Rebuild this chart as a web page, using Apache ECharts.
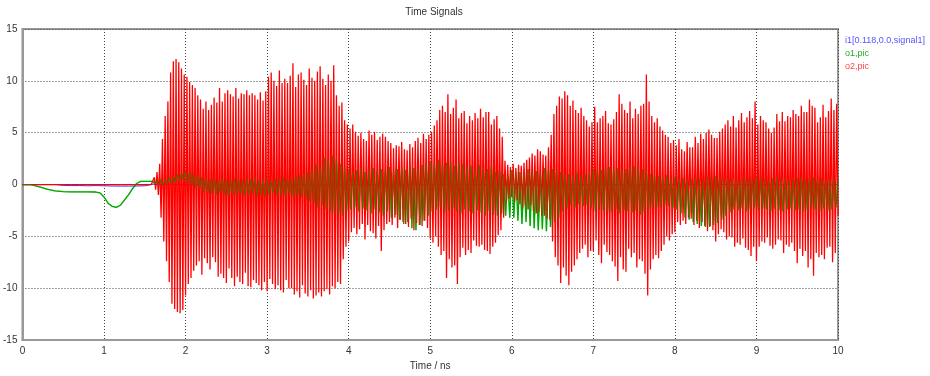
<!DOCTYPE html>
<html>
<head>
<meta charset="utf-8">
<script src="https://cdn.jsdelivr.net/npm/echarts@6/dist/echarts.min.js"></script>
<style>
html,body{margin:0;padding:0;background:#fff;}
#chart{width:930px;height:376px;}
</style>
</head>
<body>
<div id="chart"></div>
<script>
// time signals (ns / value)
var seriesNames = ['i1[0.118,0.0,signal1]', 'o1,pic', 'o2,pic'];
var xTicks = [0, 1, 2, 3, 4, 5, 6, 7, 8, 9, 10];

// i1: near zero, one sample every 0.1 ns from 0
var i1Start = 0, i1Step = 0.1;
var i1Values = [
	0, 0, 0, 0, 0, -0.08, -0.1, -0.1, -0.12, -0.1,
	-0.12, -0.14, -0.15, -0.15, -0.14, -0.12, 0.04, -0.04, 0.05, -0.03,
	0.03, -0.05, 0.04, -0.03, 0.05, -0.04, 0.03, -0.05, 0.04, -0.03,
	0.05, -0.04, 0.03, -0.05, 0.04, -0.03, 0.05, -0.04, 0.03, -0.05,
	0.04, -0.03, 0.05, -0.04, 0.03, -0.05, 0.04, -0.03, 0.05, -0.04,
	0.03, -0.05, 0.04, -0.03, 0.05, -0.04, 0.03, -0.05, 0.04, -0.03,
	0.05, -0.04, 0.03, -0.05, 0.04, -0.03, 0.05, -0.04, 0.03, -0.05,
	0.04, -0.03, 0.05, -0.04, 0.03, -0.05, 0.04, -0.03, 0.05, -0.04,
	0.03, -0.05, 0.04, -0.03, 0.05, -0.04, 0.03, -0.05, 0.04, -0.03,
	0.05, -0.04, 0.03, -0.05, 0.04, -0.03, 0.05, -0.04, 0.03, -0.05,
	0
];

// o1: slow part before the burst
var o1EarlyTimes = [0, 0.1, 0.2, 0.3, 0.4, 0.5, 0.6, 0.7, 0.8, 0.9, 0.95, 1.0, 1.05, 1.1, 1.15, 1.2, 1.25, 1.3, 1.35, 1.4, 1.45, 1.5, 1.55];
var o1EarlyValues = [0, 0, -0.2, -0.45, -0.6, -0.68, -0.7, -0.7, -0.7, -0.72, -0.8, -1.2, -1.8, -2.1, -2.2, -2.0, -1.5, -1.0, -0.4, 0.1, 0.3, 0.3, 0.3];

// o1: oscillating part, one sample every 0.025 ns from 1.6
var o1Start = 1.6, o1Step = 0.025;
var o1Values = [
	0.3, 0.1, 0.4, 0.0,   0.5, -0.1, 0.5, 0.1,   0.7, 0.1, 0.8, 0.2,   1.0, 0.3, 1.1, 0.4,
	1.3, 0.2, 1.2, 0.0,   1.0, -0.3, 0.9, -0.4,  0.7, -0.7, 0.6, -0.8,  0.5, -0.9, 0.6, -1.0,
	0.4, -0.8, 0.6, -1.0, 0.5, -1.1, 0.4, -0.9,  0.6, -1.0, 0.5, -0.9,  0.4, -1.1, 0.6, -1.0,
	0.5, -0.9, 0.7, -1.1, 0.4, -1.0, 0.5, -1.2,  0.6, -1.0, 0.3, -0.8,  0.5, -1.1, 0.6, -1.0,
	0.7, -1.2, 0.5, -0.9, 0.6, -1.3, 0.8, -1.1,  0.9, -1.2, 1.0, -1.4,  1.2, -1.6, 1.4, -1.8,
	2.0, -2.2, 1.7, -2.0, 2.6, -2.4, 2.3, -2.6,  2.8, -2.8, 2.5, -2.9,  2.0, -3.0, 1.6, -2.6,
	1.5, -2.4, 1.2, -2.2, 1.4, -2.6, 1.6, -2.3,  1.2, -2.5, 1.5, -2.8,  1.6, -2.4, 1.3, -2.7,
	1.5, -3.0, 1.4, -2.6, 1.7, -3.2, 1.3, -2.9,  1.5, -3.4, 1.6, -3.8,  1.4, -3.6, 1.8, -4.2,
	1.6, -4.4, 1.5, -3.9, 1.9, -3.5, 2.1, -3.0,  2.2, -2.6, 2.0, -2.4,  2.4, -2.2, 1.9, -2.7,
	2.1, -2.5, 2.3, -2.3, 1.8, -2.6, 2.2, -2.8,  2.0, -2.4, 1.7, -2.6,  1.8, -2.8, 1.5, -2.5,
	1.9, -2.7, 1.6, -3.0, 1.5, -2.6, 1.8, -2.9,  1.2, -3.0, 1.4, -2.8,  1.0, -3.0, 0.8, -3.2,
	1.4, -3.2, 1.2, -3.5, 1.2, -3.8, 1.0, -3.6,  1.5, -4.0, 1.3, -4.2,  1.3, -4.4, 1.1, -4.3,
	1.6, -4.5, 1.4, -4.1, 1.5, -3.6, 1.3, -3.2,  1.2, -2.6, 1.0, -2.3,  1.0, -2.0, 0.9, -2.2,
	1.1, -1.9, 0.8, -2.1, 1.0, -2.0, 1.2, -2.3,  1.5, -2.6, 1.3, -2.4,  1.4, -2.5, 1.6, -2.7,
	1.7, -2.6, 1.5, -2.4, 1.6, -2.8, 1.4, -2.5,  1.5, -2.6, 1.7, -2.7,  1.8, -2.5, 1.6, -2.9,
	1.5, -2.7, 1.3, -2.4, 1.0, -2.3, 0.9, -2.2,  0.8, -2.2, 0.7, -2.0,  0.9, -2.1, 0.6, -2.3,
	0.7, -2.4, 0.6, -2.8, 0.6, -3.2, 0.5, -3.4,  0.5, -3.6, 0.7, -3.8,  0.6, -4.0, 0.5, -4.1,
	0.7, -4.1, 0.6, -3.9, 0.8, -3.7, 0.7, -3.4,  0.6, -3.0, 0.5, -2.7,  0.6, -2.4, 0.4, -2.5,
	0.5, -2.3, 0.7, -2.6, 0.6, -2.4, 0.5, -2.2,  0.7, -2.5, 0.6, -2.3,  0.5, -2.4, 0.4, -2.6,
	0.6, -2.3, 0.7, -2.5, 0.5, -2.6, 0.6, -2.4,  0.4, -2.3, 0.5, -2.5,  0.6, -2.4, 0.7, -2.6,
	0.5, -2.5, 0.6, -2.3, 0.7, -2.4, 0.5, -2.6,  0.6, -2.3, 0.4, -2.5,  0.5, -2.4, 0.6, -2.2,
	0.4
];

// o2: flat zero until the burst, then six samples per 0.1 ns from 1.6
var o2EarlyTimes = [0, 1.58];
var o2EarlyValues = [0, 0];
var o2Start = 1.6, o2Step = 0.1 / 6;
var o2Values = [
	0, 0.7, -0.5, 1.2, -1.0, 2.0,          -3.2, 4.4, -5.5, 6.6, -7.4, 8.0,
	-9.4, 10.8, -11.5, 11.9, -12.0, 12.1,  -12.3, 11.8, -12.4, 11.2, -12.1, 10.6,
	-10.7, 10.4, -9.6, 9.9, -9.0, 9.6,     -8.3, 9.3, -7.8, 8.6, -7.4, 8.2,
	-8.7, 7.3, -7.1, 8.0, -7.6, 7.2,       -8.2, 7.7, -7.0, 8.4, -7.5, 7.9,
	-8.9, 9.3, -8.6, 8.0, -9.0, 8.8,       -9.5, 9.1, -8.1, 8.7, -9.0, 8.5,
	-9.8, 9.3, -8.9, 8.3, -9.4, 8.8,       -9.6, 8.7, -8.5, 9.1, -9.8, 8.6,
	-9.9, 8.8, -9.2, 8.6, -9.5, 8.2,       -9.7, 8.9, -10.2, 8.1, -9.4, 9.0,
	-10.3, 10.4, -9.1, 10.8, -9.6, 10.0,   -10.1, 9.5, -9.7, 11.0, -10.2, 9.8,
	-10.4, 10.2, -9.2, 9.8, -10.0, 10.5,   -10.0, 11.7, -10.6, 9.4, -10.3, 10.6,
	-10.9, 10.8, -9.7, 10.1, -10.5, 9.6,   -10.8, 11.2, -10.2, 10.3, -11.0, 10.0,
	-10.7, 10.9, -10.4, 11.4, -10.8, 10.2, -10.3, 9.6, -10.1, 10.6, -10.6, 10.0,
	-9.8, 11.5, -10.0, 8.6, -9.4, 7.6,     -9.6, 7.9, -7.2, 6.2, -6.0, 5.8,
	-5.5, 5.4, -4.6, 5.8, -4.2, 5.1,       -4.8, 4.7, -4.3, 5.0, -3.8, 4.4,
	-5.3, 4.2, -3.9, 5.2, -4.5, 4.8,       -4.7, 5.1, -5.2, 4.3, -4.0, 4.6,
	-6.4, 4.9, -4.4, 4.6, -3.8, 4.2,       -3.6, 4.0, -3.9, 3.5, -3.2, 3.8,
	-4.2, 3.7, -3.4, 4.1, -3.6, 3.4,       -3.8, 3.3, -4.1, 3.9, -3.3, 3.6,
	-4.4, 4.2, -3.7, 4.5, -3.9, 4.0,       -4.0, 4.9, -3.5, 4.4, -4.2, 4.8,
	-5.2, 5.1, -5.6, 5.7, -5.0, 6.2,       -6.0, 7.2, -6.8, 7.6, -6.4, 7.0,
	-9.0, 8.7, -7.2, 6.8, -8.0, 7.4,       -7.8, 8.2, -9.6, 6.4, -7.0, 6.9,
	-6.1, 7.1, -6.8, 5.9, -6.3, 6.6,       -6.6, 6.2, -5.4, 6.9, -5.9, 6.4,
	-6.0, 7.3, -5.8, 6.5, -6.3, 7.0,       -6.4, 7.0, -6.7, 5.8, -6.0, 6.3,
	-5.6, 6.6, -4.9, 5.4, -4.4, 4.6,       -3.2, 2.3, -1.8, 1.9, -1.4, 1.7,
	-1.2, 2.0, -1.7, 1.6, -1.5, 1.9,       -1.9, 1.8, -2.3, 2.1, -2.0, 2.4,
	-2.4, 2.6, -2.0, 3.0, -2.6, 2.8,       -2.8, 3.4, -2.6, 3.2, -3.0, 2.9,
	-3.0, 2.8, -3.3, 3.6, -3.4, 4.8,       -5.5, 6.8, -7.0, 7.6, -7.8, 8.5,
	-9.5, 8.3, -8.0, 9.0, -8.8, 8.6,       -9.7, 7.6, -8.4, 8.1, -7.8, 7.2,
	-7.2, 6.9, -6.6, 7.4, -6.2, 6.6,       -5.8, 6.2, -7.0, 5.6, -6.4, 6.0,
	-6.4, 7.5, -5.4, 6.0, -6.8, 6.4,       -7.6, 6.6, -5.8, 7.1, -6.5, 5.9,
	-6.8, 5.8, -7.4, 6.3, -7.9, 7.0,       -9.3, 8.7, -7.0, 7.8, -8.2, 7.2,
	-8.4, 6.9, -6.2, 8.0, -7.0, 6.4,       -6.6, 7.3, -8.0, 6.8, -7.2, 7.6,
	-7.4, 7.8, -8.6, 10.6, -10.7, 8.0,     -8.2, 6.6, -7.2, 6.0, -6.8, 6.4,
	-7.1, 5.6, -6.4, 5.2, -5.8, 4.8,       -5.0, 4.6, -5.4, 4.0, -4.8, 4.3,
	-4.6, 3.8, -3.6, 4.4, -3.9, 3.4,       -3.5, 3.2, -3.8, 4.1, -3.2, 3.6,
	-3.3, 3.6, -3.9, 4.6, -3.5, 4.0,       -4.2, 4.9, -3.6, 4.4, -4.0, 5.0,
	-4.5, 5.3, -4.0, 4.8, -4.4, 4.5,       -5.5, 4.5, -4.8, 5.1, -4.3, 5.4,
	-4.6, 5.8, -5.3, 6.2, -5.0, 5.6,       -5.1, 6.6, -6.0, 5.5, -5.6, 6.2,
	-5.8, 6.9, -5.2, 6.0, -6.1, 6.5,       -6.3, 7.1, -6.9, 6.4, -6.0, 8.0,
	-7.4, 5.8, -6.0, 6.6, -5.5, 6.2,       -5.6, 6.0, -5.1, 5.4, -5.9, 5.0,
	-6.2, 5.5, -5.8, 6.8, -5.3, 6.1,       -5.4, 7.0, -6.6, 6.1, -5.8, 6.6,
	-6.0, 6.5, -5.6, 7.2, -6.4, 6.8,       -7.6, 6.6, -6.2, 7.6, -6.9, 7.0,
	-6.4, 7.0, -8.0, 8.2, -7.2, 7.6,       -8.8, 7.4, -6.6, 6.0, -7.0, 6.5,
	-6.8, 7.7, -7.2, 6.5, -6.1, 7.1,       -6.0, 8.3, -7.5, 7.2, -6.6, 7.8,
	-3.0
];

function gridPoints(start, step, values) {
	var out = [];
	for (var i = 0; i < values.length; i++) {
		out.push([+(start + i * step).toFixed(5), values[i]]);
	}
	return out;
}
function pairPoints(times, values) {
	var out = [];
	for (var i = 0; i < times.length; i++) {
		out.push([times[i], values[i]]);
	}
	return out;
}

var i1Data = gridPoints(i1Start, i1Step, i1Values);
var o1Data = pairPoints(o1EarlyTimes, o1EarlyValues).concat(gridPoints(o1Start, o1Step, o1Values));
var o2Data = pairPoints(o2EarlyTimes, o2EarlyValues).concat(gridPoints(o2Start, o2Step, o2Values));

var font = 'Liberation Sans';
var chart = echarts.init(document.getElementById('chart'), null, {renderer: 'canvas'});
chart.setOption({
	animation: false,
	title: {
		text: 'Time Signals',
		left: 429,
		textAlign: 'center',
		top: 2,
		textStyle: {fontSize: 10, fontWeight: 'normal', color: '#333', fontFamily: font}
	},
	legend: {
		orient: 'vertical',
		left: 840,
		top: 31,
		itemWidth: 0,
		itemHeight: 0,
		itemGap: 4,
		icon: 'rect',
		selectedMode: false,
		textStyle: {fontSize: 9, fontFamily: font, padding: [0, 0, 0, -5]},
		data: [
			{name: seriesNames[0], textStyle: {color: '#5555ff'}},
			{name: seriesNames[1], textStyle: {color: '#22aa22'}},
			{name: seriesNames[2], textStyle: {color: '#ff4444'}}
		]
	},
	grid: {
		left: 20,
		right: 92,
		top: 29,
		bottom: 33,
		show: true,
		borderColor: '#999',
		borderWidth: 2,
		backgroundColor: '#fff'
	},
	xAxis: {
		type: 'value',
		min: xTicks[0],
		max: xTicks[xTicks.length - 1],
		interval: 1,
		name: 'Time / ns',
		nameLocation: 'middle',
		nameGap: 20,
		nameTextStyle: {fontSize: 10, color: '#333', fontFamily: font},
		axisLine: {show: true, onZero: false, lineStyle: {color: '#999', width: 2}},
		axisTick: {show: false},
		axisLabel: {fontSize: 10, color: '#333', margin: 6, fontFamily: font},
		splitLine: {show: true, lineStyle: {color: '#444', type: [1, 2], width: 1}}
	},
	yAxis: {
		type: 'value',
		min: -15,
		max: 15,
		interval: 5,
		axisLine: {show: true, lineStyle: {color: '#999', width: 2}},
		axisTick: {show: false},
		axisLabel: {fontSize: 10, color: '#333', margin: 5, fontFamily: font},
		splitLine: {show: true, lineStyle: {color: '#444', type: [1, 2], width: 1}}
	},
	series: [
		{
			name: seriesNames[0],
			type: 'line',
			data: i1Data,
			showSymbol: false,
			z: 3,
			color: '#3333ff',
			lineStyle: {width: 1, color: '#3333ff'}
		},
		{
			name: seriesNames[1],
			type: 'line',
			data: o1Data,
			showSymbol: false,
			z: 2,
			color: '#00b000',
			lineStyle: {width: 1.3, color: '#00b000'}
		},
		{
			name: seriesNames[2],
			type: 'line',
			data: o2Data,
			showSymbol: false,
			z: 4,
			color: '#ff0000',
			lineStyle: {width: 1.3, color: '#ff0000'}
		},
		{
			// o1 again, see-through on top of o2, gives the olive band
			name: seriesNames[1],
			type: 'line',
			data: o1Data,
			showSymbol: false,
			silent: true,
			z: 5,
			color: '#00b000',
			lineStyle: {width: 1.3, color: '#00a000', opacity: 0.45}
		}
	]
});
</script>
</body>
</html>
